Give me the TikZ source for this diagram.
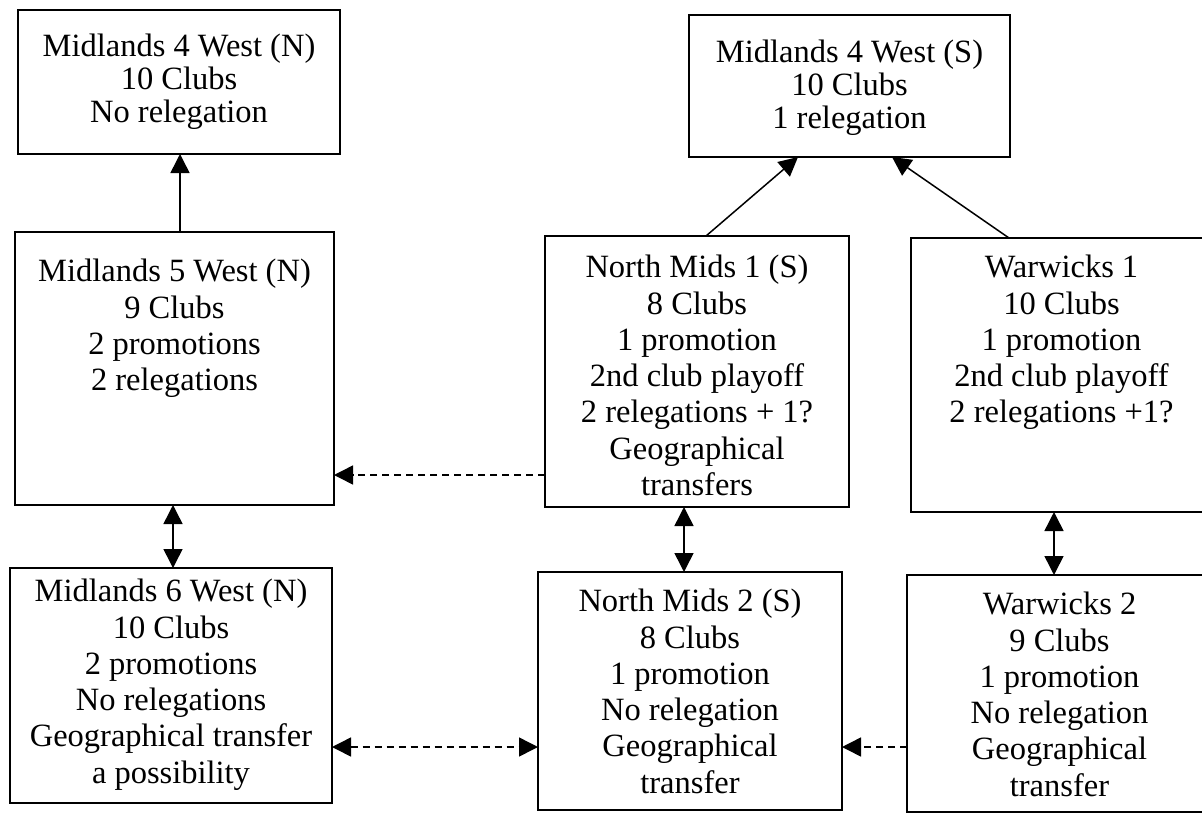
\documentclass[tikz,border=0pt]{standalone}
\usepackage{fontspec}
\setmainfont{Liberation Serif}
\usetikzlibrary{arrows.meta}
\begin{document}
\begin{tikzpicture}[x=1pt,y=-1pt,
  box/.style={draw, line width=1.6pt, inner sep=0pt, outer sep=0pt},
  txt/.style={align=center, inner sep=0pt, anchor=north, font=\fontsize{32.5}{36.3}\selectfont},
  txtt/.style={txt, font=\fontsize{32.5}{32.8}\selectfont},
  arr/.style={line width=1.5pt, -{Triangle[length=19pt,width=19pt]}},
  darr/.style={line width=1.5pt, {Triangle[length=19pt,width=19pt]}-{Triangle[length=19pt,width=19pt]}},
  dsh/.style={dash pattern=on 7pt off 5pt}]
\useasboundingbox (0,0) rectangle (1202,814);
% boxes
\node[box, minimum width=322pt, minimum height=144pt] (A) at (179,82) {};
\node[box, minimum width=321pt, minimum height=142pt] (B) at (849.5,86) {};
\node[box, minimum width=319pt, minimum height=273pt] (C) at (174.5,368.5) {};
\node[box, minimum width=304pt, minimum height=271pt] (D) at (697,371.5) {};
\node[box, minimum width=301pt, minimum height=274pt] (E) at (1061.5,375) {};
\node[box, minimum width=322pt, minimum height=235pt] (F) at (171,685.5) {};
\node[box, minimum width=304pt, minimum height=238pt] (G) at (690,691) {};
\node[box, minimum width=305pt, minimum height=237pt] (H) at (1059.5,693.5) {};
% texts
\node[txtt] (At) at ([yshift=-24]A.north) {Midlands 4 West (N)\\10 Clubs\\No relegation};
\node[txtt] (Bt) at ([yshift=-25]B.north) {Midlands 4 West (S)\\10 Clubs\\1 relegation};
\node[txt] (Ct) at ([yshift=-27]C.north) {Midlands 5 West (N)\\9 Clubs\\2 promotions\\2 relegations};
\node[txt] (Dt) at ([yshift=-19]D.north) {North Mids 1 (S)\\8 Clubs\\1 promotion\\2nd club playoff\\2 relegations + 1?\\Geographical\\transfers};
\node[txt] (Et) at ([yshift=-17]E.north) {Warwicks 1\\10 Clubs\\1 promotion\\2nd club playoff\\2 relegations +1?};
\node[txt] (Ft) at ([yshift=-11]F.north) {Midlands 6 West (N)\\10 Clubs\\2 promotions\\No relegations\\Geographical transfer\\a possibility};
\node[txt] (Gt) at ([yshift=-17]G.north) {North Mids 2 (S)\\8 Clubs\\1 promotion\\No relegation\\Geographical\\transfer};
\node[txt] (Ht) at ([yshift=-17]H.north) {Warwicks 2\\9 Clubs\\1 promotion\\No relegation\\Geographical\\transfer};
% connectors
\draw[arr] ([xshift=1]A.south |- C.north) -- ([xshift=1]A.south);
\draw[arr] ([xshift=9]D.north) -- ([xshift=-51.5]B.south);
\draw[arr] ([xshift=-52.5]E.north) -- ([xshift=42.5]B.south);
\coordinate (dc) at ([yshift=-103.5]D.west);
\draw[arr, dsh] (dc) -- (dc -| C.east);
\draw[darr] ([xshift=-1.5]C.south) -- ([xshift=-1.5]C.south |- F.north);
\draw[darr] ([xshift=-13]D.south) -- ([xshift=-13]D.south |- G.north);
\draw[darr] ([xshift=-7.5]E.south) -- ([xshift=-7.5]E.south |- H.north);
\coordinate (fg) at ([yshift=-61.5]F.east);
\draw[darr, dsh] (fg) -- (fg -| G.west);
\coordinate (hg) at ([yshift=-53.5]H.west);
\draw[arr, dsh] (hg) -- (hg -| G.east);
\end{tikzpicture}
\end{document}
